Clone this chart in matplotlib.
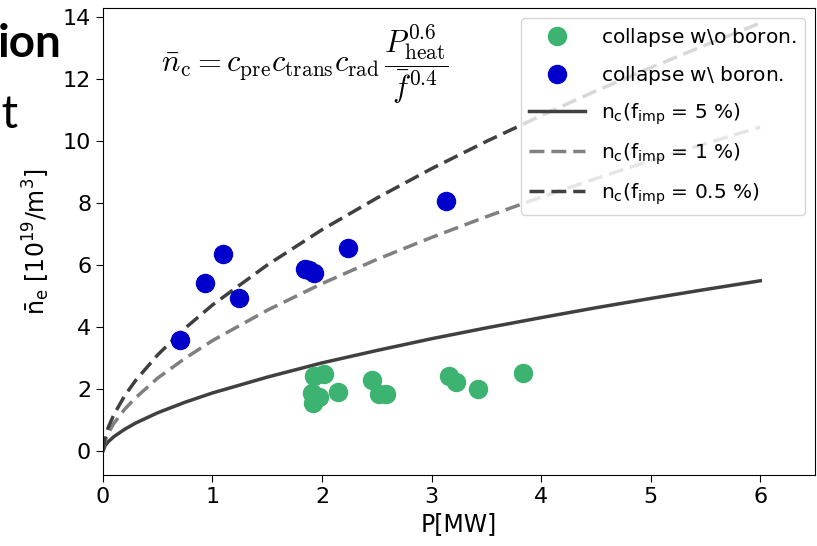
import matplotlib
matplotlib.use('Agg')
import matplotlib.pyplot as plt

# %% data
# measured points, P [MW] and density [1e19 m^-3]
p_no_boron = [1.93, 2.02, 1.91, 1.97, 1.92, 2.15, 2.46, 2.52, 2.58, 3.16, 3.22, 3.42, 3.83]
n_no_boron = [2.43, 2.48, 1.88, 1.75, 1.54, 1.91, 2.29, 1.84, 1.86, 2.42, 2.24, 2.00, 2.52]
p_boron = [0.70, 0.93, 1.10, 1.245, 1.84, 1.88, 1.93, 2.24, 3.13]
n_boron = [3.58, 5.43, 6.35, 4.94, 5.89, 5.84, 5.75, 6.57, 8.07]

# model curves
p_curve = [0, 0.02, 0.05, 0.1, 0.2, 0.3, 0.5, 0.75, 1, 1.5, 2, 2.5, 3, 3.5, 4, 4.5, 5, 5.5, 6]
n_5pct = [0, 0.18, 0.31, 0.47, 0.71, 0.91, 1.24, 1.58, 1.88, 2.39, 2.85, 3.25, 3.63, 3.98,
          4.31, 4.63, 4.93, 5.22, 5.50]
n_1pct = [0, 0.34, 0.59, 0.90, 1.36, 1.73, 2.36, 3.00, 3.57, 4.55, 5.41, 6.19, 6.90, 7.57,
          8.20, 8.80, 9.38, 9.93, 10.46]
n_05pct = [0, 0.45, 0.78, 1.18, 1.80, 2.29, 3.11, 3.97, 4.72, 6.01, 7.15, 8.17, 9.12, 10.00,
           10.83, 11.63, 12.38, 13.11, 13.82]

# %% plot
plt.rcParams['font.family'] = ['DejaVu Sans']
plt.rcParams['mathtext.fontset'] = 'dejavusans'

fig = plt.figure(figsize=(8.17, 5.46), dpi=100)
ax = fig.add_axes([0.126, 0.130, 0.8716, 0.855])

ax.plot(p_no_boron, n_no_boron, 'o', color='#3cb371', markersize=13, label=r'collapse w$\backslash$o boron.', zorder=3)
ax.plot(p_boron, n_boron, 'o', color='#0000cd', markersize=13, label=r'collapse w$\backslash$ boron.', zorder=3)
ax.plot(p_curve, n_5pct, color='#404040', linewidth=2.5, label=r'n$_{\rm c}$(f$_{\rm imp}$ = 5 %)')
ax.plot(p_curve, n_1pct, color='#808080', linewidth=2.5, linestyle='--', dashes=(4.3, 2.0),
        label=r'n$_{\rm c}$(f$_{\rm imp}$ = 1 %)')
ax.plot(p_curve, n_05pct, color='#404040', linewidth=2.5, linestyle='--', dashes=(4.3, 2.0),
        label=r'n$_{\rm c}$(f$_{\rm imp}$ = 0.5 %)')

ax.set_xlim(0, 6.5)
ax.set_ylim(-0.77, 14.3)
ax.set_xticks([0, 1, 2, 3, 4, 5, 6])
ax.set_yticks([0, 2, 4, 6, 8, 10, 12, 14])
ax.tick_params(labelsize=16, length=5)
ax.set_xlabel('P[MW]', fontsize=17, labelpad=4)
ax.set_ylabel(r'$\bar{\rm n}_{\rm e}\ [10^{19}/{\rm m}^3]$', fontsize=17, labelpad=8)

ax.legend(loc='upper right', fontsize=14.5, handlelength=2.8, labelspacing=0.72,
          borderaxespad=0.5, framealpha=0.8)

ax.text(0.284, 0.88, r'$\bar{n}_{\rm c} = c_{\rm pre} c_{\rm trans} c_{\rm rad}\,\dfrac{P_{\rm heat}^{0.6}}{\bar{f}^{0.4}}$',
        transform=ax.transAxes, fontsize=22, ha='center', va='center', math_fontfamily='cm')

# slide text peeking in from the left
fig.text(62 / 817, 1 - 57 / 546, 'ion', fontsize=33, fontweight='bold', family='Lato', ha='right', va='baseline')
fig.text(19 / 817, 1 - 128 / 546, 'nt', fontsize=33, family='Lato', ha='right', va='baseline')

plt.savefig('out.png', dpi=100)
